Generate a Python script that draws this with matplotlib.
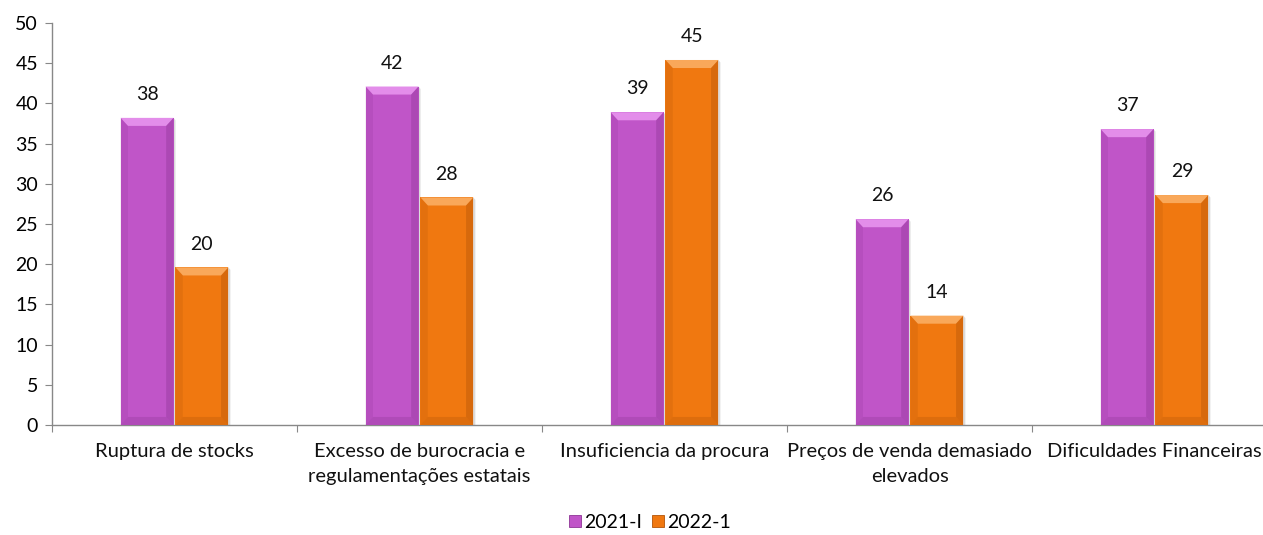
import matplotlib
matplotlib.use('Agg')
import matplotlib.pyplot as plt
from matplotlib.patches import Polygon
from matplotlib.lines import Line2D
import numpy as np

plt.rcParams.update({
    'font.family': ['Lato', 'DejaVu Sans'],
    'font.size': 14,
})

CATEGORIES = [
    "Ruptura de stocks",
    "Excesso de burocracia e\nregulamentações estatais",
    "Insuficiencia da procura",
    "Preços de venda demasiado\nelevados",
    "Dificuldades Financeiras",
]
SERIES = ["2021-I", "2022-1"]
VALS_2021 = [38.2, 42.1, 38.9, 25.6, 36.8]
VALS_2022 = [19.6, 28.3, 45.4, 13.6, 28.6]

COLORS = {"2021-I": ("#C055C8", "#E38DEA", "#8E3596"),
          "2022-1": ("#F07810", "#F9A85A", "#B25408")}


def bevel_bar(ax, x0, w, h, base, light, dark, bx=0.03, by=1.0):
    # body with a shallow bevel: lighter top, darker sides/bottom
    ax.add_patch(Polygon([(x0, 0), (x0 + w, 0), (x0 + w, h), (x0, h)],
                         closed=True, facecolor=base, edgecolor='none', zorder=3))
    ax.add_patch(Polygon([(x0, h), (x0 + w, h), (x0 + w - bx, h - by), (x0 + bx, h - by)],
                         closed=True, facecolor=light, edgecolor='none', zorder=4))
    ax.add_patch(Polygon([(x0 + w, h), (x0 + w, 0), (x0 + w - bx, by), (x0 + w - bx, h - by)],
                         closed=True, facecolor=dark, edgecolor='none', alpha=0.40, zorder=4))
    ax.add_patch(Polygon([(x0, h), (x0, 0), (x0 + bx, by), (x0 + bx, h - by)],
                         closed=True, facecolor=dark, edgecolor='none', alpha=0.20, zorder=4))
    ax.add_patch(Polygon([(x0, 0), (x0 + w, 0), (x0 + w - bx, by), (x0 + bx, by)],
                         closed=True, facecolor=dark, edgecolor='none', alpha=0.30, zorder=4))
    # soft drop shadow on the right
    ax.add_patch(Polygon([(x0 + w, 0), (x0 + w + 0.008, 0), (x0 + w + 0.008, h - 0.3), (x0 + w, h)],
                         closed=True, facecolor='#999999', edgecolor='none', alpha=0.35, zorder=2))


fig = plt.figure(figsize=(12.63, 5.35), dpi=100)
ax = fig.add_axes([52 / 1263, 110 / 535, 1225 / 1263, 402 / 535])

x = np.arange(len(CATEGORIES))
width = 0.216
offset = 0.112

for vals, name, sign in [(VALS_2021, "2021-I", -1), (VALS_2022, "2022-1", 1)]:
    base, light, dark = COLORS[name]
    for xi, v in zip(x, vals):
        cx = xi + sign * offset
        bevel_bar(ax, cx - width / 2, width, v, base, light, dark)
        ax.text(cx, v + 2.9, f"{v:.0f}", ha='center', va='center',
                fontsize=14, color='#111111')

ax.set_xlim(-0.5, len(CATEGORIES) - 0.5)
ax.set_ylim(0, 50)
ax.set_yticks(np.arange(0, 51, 5))
ax.tick_params(axis='y', length=5, color='#888888', labelsize=14, pad=5)

ax.set_xticks(np.arange(-0.5, len(CATEGORIES), 1.0))
ax.set_xticklabels([])
ax.tick_params(axis='x', length=5, color='#888888')
for xi, lab in zip(x, CATEGORIES):
    ax.text(xi, -2.3, lab, ha='center', va='top', fontsize=14.5,
            linespacing=1.55, color='#111111')

for s in ['top', 'right']:
    ax.spines[s].set_visible(False)
for s in ['left', 'bottom']:
    ax.spines[s].set_color('#888888')
    ax.spines[s].set_linewidth(1.0)

handles = [Line2D([], [], marker='s', linestyle='none', markersize=8,
                  markerfacecolor=COLORS[n][0], markeredgecolor=COLORS[n][2],
                  markeredgewidth=0.6, label=n) for n in SERIES]
fig.legend(handles=handles, loc='center', bbox_to_anchor=(648 / 1263, 1 - 522 / 535),
           ncol=2, frameon=False, fontsize=14, handletextpad=0.0, columnspacing=0.3,
           handlelength=1.0)

fig.savefig('out.png', dpi=100)
